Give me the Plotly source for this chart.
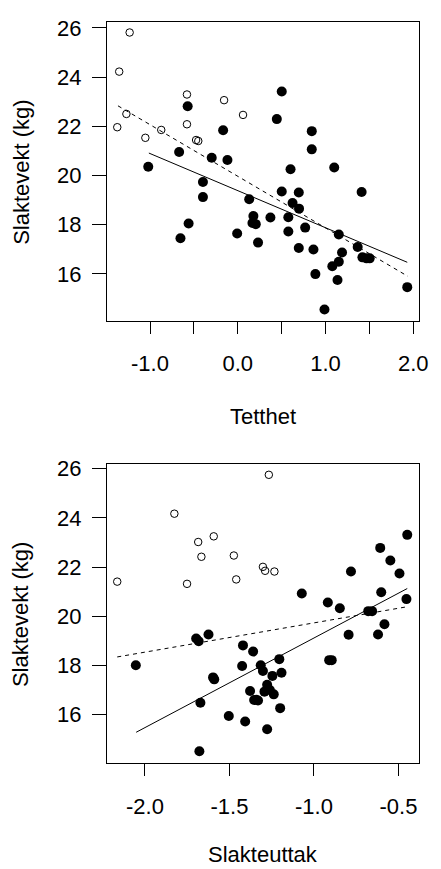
import plotly.graph_objects as go

# ---------------- data ----------------
# Top panel: Tetthet vs Slaktevekt
top_open_x = [-1.232, -1.351, -1.269, -1.373, -1.053, -0.872, -0.579, -0.579, -0.475, -0.450, -0.156, 0.060]
top_open_y = [25.81, 24.22, 22.50, 21.96, 21.53, 21.85, 23.29, 22.08, 21.44, 21.40, 23.06, 22.46]
top_fill_x = [-1.020, -0.668, -0.571, -0.397, -0.397, -0.297, -0.167, -0.118, 0.130, 0.445, 0.501, 0.501,
              0.601, 0.695, 0.843, 0.843, 1.099, 1.411, 0.624, 0.698, -0.653, -0.560, -0.007, 0.178,
              0.167, 0.205, 0.231, 0.372, 0.576, 0.576, 0.695, 0.768, 0.862, 0.884, 0.988, 1.077,
              1.151, 1.151, 1.188, 1.136, 1.366, 1.420, 1.467, 1.503, 1.931]
top_fill_y = [20.35, 20.95, 22.81, 19.73, 19.12, 20.72, 21.84, 20.63, 19.03, 22.29, 23.41, 19.35,
              20.25, 19.31, 21.80, 21.06, 20.32, 19.33, 18.88, 18.65, 17.45, 18.05, 17.64, 18.35,
              18.07, 18.02, 17.27, 18.29, 18.30, 17.72, 17.05, 17.88, 16.99, 15.99, 14.55, 16.31,
              16.49, 17.60, 16.87, 15.75, 17.09, 16.67, 16.63, 16.63, 15.46]
top_solid_x = [-1.013, 1.931]
top_solid_y = [20.91, 16.47]
top_dash_x = [-1.365, 1.938]
top_dash_y = [22.83, 15.90]

# Bottom panel: Slakteuttak vs Slaktevekt
bot_open_x = [-2.164, -1.826, -1.751, -1.685, -1.666, -1.593, -1.474, -1.460, -1.302, -1.289, -1.234, -1.267]
bot_open_y = [21.41, 24.17, 21.32, 23.02, 22.42, 23.25, 22.47, 21.50, 22.01, 21.85, 21.82, 25.75]
bot_fill_x = [-0.448, -0.608, -0.548, -0.781, -0.494, -1.072, -0.602, -0.918, -0.847, -0.679, -0.656, -0.453,
              -0.583, -0.621, -0.795, -0.910, -0.895, -2.054, -1.697, -1.682, -1.624, -1.420, -1.360, -1.425,
              -1.597, -1.590, -1.315, -1.302, -1.205, -1.192, -1.246, -1.277, -1.378, -1.293, -1.261, -1.238,
              -1.354, -1.331, -1.342, -1.672, -1.200, -1.504, -1.407, -1.277, -1.678]
bot_fill_y = [23.31, 22.78, 22.27, 21.82, 21.74, 20.93, 20.98, 20.56, 20.33, 20.21, 20.21, 20.70,
              19.68, 19.26, 19.25, 18.22, 18.22, 18.01, 19.10, 18.99, 19.26, 18.82, 18.57, 17.98,
              17.52, 17.44, 18.01, 17.78, 18.26, 17.71, 17.58, 17.22, 16.97, 16.94, 17.01, 16.83,
              16.60, 16.58, 16.61, 16.49, 16.27, 15.95, 15.73, 15.41, 14.52]
bot_solid_x = [-2.052, -0.448]
bot_solid_y = [15.29, 21.13]
bot_dash_x = [-2.164, -0.448]
bot_dash_y = [18.35, 20.39]

y_ticks = [16, 18, 20, 22, 24, 26]
y_ticklabels = ["16", "18", "20", "22", "24", "26"]
top_xticks = [-1.0, -0.5, 0.0, 0.5, 1.0, 1.5, 2.0]
top_xticklabels = ["-1.0", "", "0.0", "", "1.0", "", "2.0"]
bot_xticks = [-2.0, -1.5, -1.0, -0.5]
bot_xticklabels = ["-2.0", "-1.5", "-1.0", "-0.5"]

ylab = "Slaktevekt (kg)"
top_xlab = "Tetthet"
bot_xlab = "Slakteuttak"

# ---------------- figure ----------------
W, H = 441, 869
FONT = "Liberation Sans, Arial, sans-serif"
fig = go.Figure()

def add_panel(xa, ya, ox, oy, fx, fy, sx, sy, dx, dy):
    fig.add_trace(go.Scatter(x=fx, y=fy, mode="markers", xaxis=xa, yaxis=ya,
                             marker=dict(symbol="circle", size=10, color="black", line=dict(width=0)),
                             showlegend=False, hoverinfo="skip"))
    fig.add_trace(go.Scatter(x=ox, y=oy, mode="markers", xaxis=xa, yaxis=ya,
                             marker=dict(symbol="circle-open", size=7.5, color="black", line=dict(width=1)),
                             showlegend=False, hoverinfo="skip"))
    fig.add_trace(go.Scatter(x=sx, y=sy, mode="lines", xaxis=xa, yaxis=ya,
                             line=dict(color="black", width=1), showlegend=False, hoverinfo="skip"))
    fig.add_trace(go.Scatter(x=dx, y=dy, mode="lines", xaxis=xa, yaxis=ya,
                             line=dict(color="black", width=1, dash="4px,4px"), showlegend=False,
                             hoverinfo="skip"))

add_panel("x", "y", top_open_x, top_open_y, top_fill_x, top_fill_y,
          top_solid_x, top_solid_y, top_dash_x, top_dash_y)
add_panel("x2", "y2", bot_open_x, bot_open_y, bot_fill_x, bot_fill_y,
          bot_solid_x, bot_solid_y, bot_dash_x, bot_dash_y)

left, right = 109.3, 428.3
xdom = [left / W, right / W]
top_box = (14.3, 316.0)
bot_box = (460.7, 762.3)

def ydom(b):
    return [1 - b[1] / H, 1 - b[0] / H]

tickfont = dict(family=FONT, size=22, color="black")
common_x = dict(showgrid=False, zeroline=False, showline=True, mirror=True, linecolor="black",
                linewidth=1, ticks="outside", ticklen=12, tickcolor="black", tickwidth=1,
                tickfont=tickfont, ticklabelstandoff=11)
common_y = dict(showgrid=False, zeroline=False, showline=True, mirror=True, linecolor="black",
                linewidth=1, ticks="outside", ticklen=14, tickcolor="black", tickwidth=1,
                tickfont=tickfont, tickvals=y_ticks, ticktext=y_ticklabels, ticklabelstandoff=6)

fig.update_layout(
    width=W, height=H, margin=dict(l=0, r=0, t=0, b=0),
    paper_bgcolor="white", plot_bgcolor="white",
    xaxis=dict(domain=xdom, anchor="y", range=[-1.492, 2.06], tickvals=top_xticks,
               ticktext=top_xticklabels, **common_x),
    yaxis=dict(domain=ydom(top_box), anchor="x", range=[14.08, 26.23], **common_y),
    xaxis2=dict(domain=xdom, anchor="y2", range=[-2.2256, -0.381], tickvals=bot_xticks,
                ticktext=bot_xticklabels, **common_x),
    yaxis2=dict(domain=ydom(bot_box), anchor="x2", range=[14.03, 26.17], **common_y),
    font=dict(family=FONT, color="black"),
)

titlefont = dict(family=FONT, size=22, color="black")
cx = (left + right) / 2 / W
fig.add_annotation(text=top_xlab, x=cx, y=1 - 412 / H, xref="paper", yref="paper",
                   showarrow=False, xanchor="center", yanchor="middle", font=titlefont)
fig.add_annotation(text=bot_xlab, x=cx, y=0.0, xref="paper", yref="paper",
                   showarrow=False, xanchor="center", yanchor="bottom", font=titlefont)
fig.add_annotation(text=ylab, x=21.7 / W, y=1 - (sum(top_box) / 2) / H, xref="paper", yref="paper",
                   showarrow=False, xanchor="center", yanchor="middle", textangle=-90, font=titlefont)
fig.add_annotation(text=ylab, x=21.7 / W, y=1 - (sum(bot_box) / 2) / H, xref="paper", yref="paper",
                   showarrow=False, xanchor="center", yanchor="middle", textangle=-90, font=titlefont)

fig.write_html("out.html")
